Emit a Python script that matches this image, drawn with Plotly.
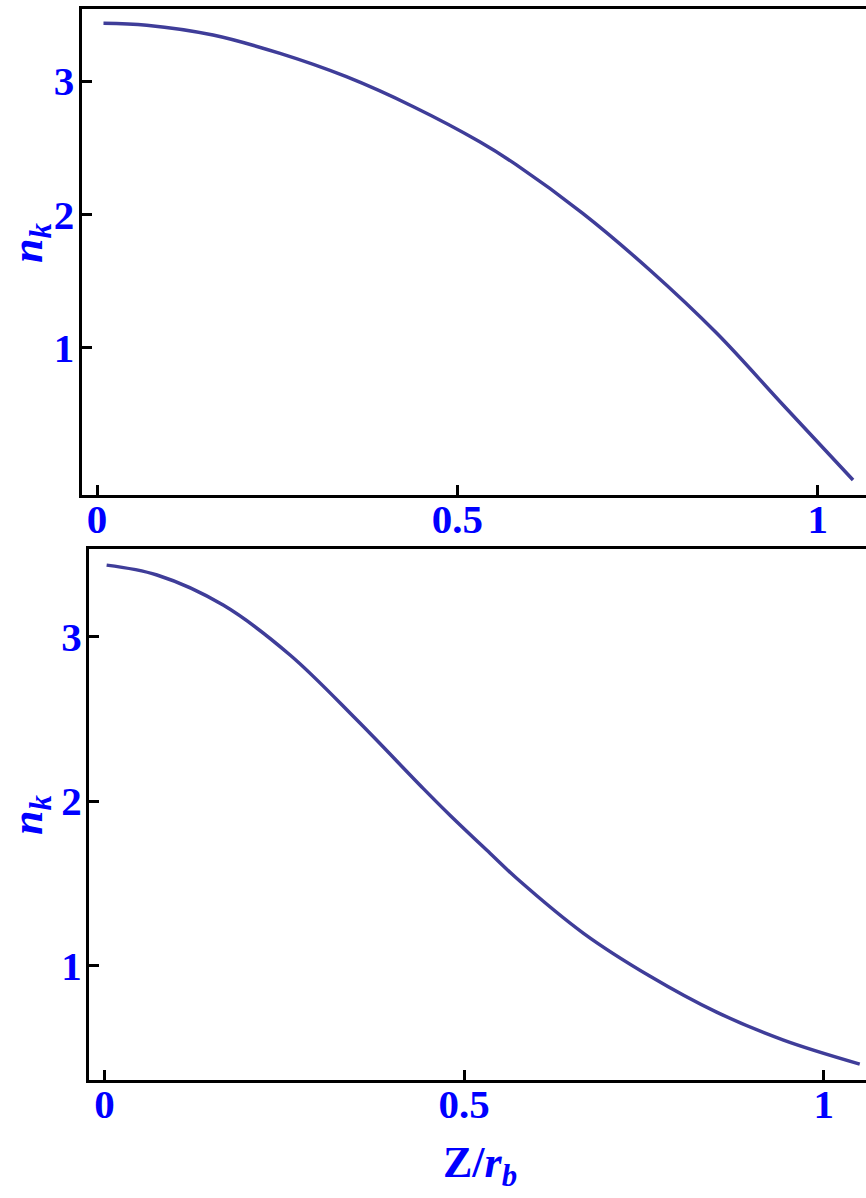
import plotly.graph_objects as go

# Upper panel: n_k versus Z/r_b
z_upper = [0.009, 0.069, 0.161, 0.254, 0.346, 0.439, 0.531, 0.582, 0.674, 0.767, 0.860, 0.952, 1.049]
n_upper = [3.435, 3.420, 3.346, 3.208, 3.033, 2.808, 2.545, 2.372, 2.008, 1.583, 1.108, 0.570, 0.008]

# Lower panel: n_k versus Z/r_b
z_lower = [0.003, 0.073, 0.165, 0.258, 0.351, 0.443, 0.480, 0.536, 0.573, 0.666, 0.758, 0.851, 0.944, 1.050]
n_lower = [3.436, 3.376, 3.193, 2.889, 2.493, 2.077, 1.915, 1.682, 1.530, 1.195, 0.935, 0.715, 0.545, 0.399]

x_ticks = [0, 0.5, 1]
x_tick_text = ["0", "0.5", "1"]
y_ticks = [1, 2, 3]
y_tick_text = ["1", "2", "3"]

W, H = 866, 1198
LINE_COLOR = "#3f3d99"
LABEL_BLUE = "#0000ff"
SERIF = "Liberation Serif"

fig = go.Figure()
fig.add_trace(go.Scatter(x=z_upper, y=n_upper, mode="lines", xaxis="x", yaxis="y",
                         line=dict(color=LINE_COLOR, width=3.5, shape="spline", smoothing=1.0)))
fig.add_trace(go.Scatter(x=z_lower, y=n_lower, mode="lines", xaxis="x2", yaxis="y2",
                         line=dict(color=LINE_COLOR, width=3.5, shape="spline", smoothing=1.0)))

tick_font = dict(family=SERIF, size=41, color=LABEL_BLUE, weight="bold")

def xaxis(domain, rng, anchor):
    return dict(domain=domain, range=rng, anchor=anchor,
                tickvals=x_ticks, ticktext=x_tick_text, ticks="inside", ticklen=10,
                tickwidth=3, tickcolor="black", showline=True, linecolor="black",
                linewidth=3, mirror=True, showgrid=False, zeroline=False,
                tickfont=tick_font, ticklabelstandoff=-14)

def yaxis(domain, rng, anchor):
    return dict(domain=domain, range=rng, anchor=anchor,
                tickvals=y_ticks, ticktext=y_tick_text, ticks="inside", ticklen=10,
                tickwidth=3, tickcolor="black", showline=True, linecolor="black",
                linewidth=3, mirror=False, showgrid=False, zeroline=False,
                tickfont=tick_font, ticklabelstandoff=-4)

fig.update_layout(
    width=W, height=H,
    margin=dict(l=0, r=0, t=0, b=0),
    paper_bgcolor="white", plot_bgcolor="white",
    showlegend=False,
    xaxis=xaxis([81.5 / W, 1.0], [-0.0215, 1.067], "y"),
    yaxis=yaxis([1 - 495 / H, 1 - 8.5 / H], [-0.105, 3.545], "x"),
    xaxis2=xaxis([89 / W, 1.0], [-0.0215, 1.0587], "y2"),
    yaxis2=yaxis([1 - 1080 / H, 1 - 548.7 / H], [0.302, 3.536], "x2"),
)

title_font = dict(family=SERIF, size=44, color=LABEL_BLUE, weight="bold")
for yc in (243, 815):
    fig.add_annotation(text="<i>n</i><sub><i>k</i></sub>", xref="paper", yref="paper",
                       x=31 / W, y=1 - yc / H, textangle=-90, showarrow=False,
                       font=title_font, xanchor="center", yanchor="middle")

fig.add_annotation(text="Z/<i>r</i><sub><i>b</i></sub>", xref="paper", yref="paper",
                   x=480 / W, y=1 - 1165 / H, showarrow=False, font=title_font,
                   xanchor="center", yanchor="middle")

fig.write_html("out.html")
